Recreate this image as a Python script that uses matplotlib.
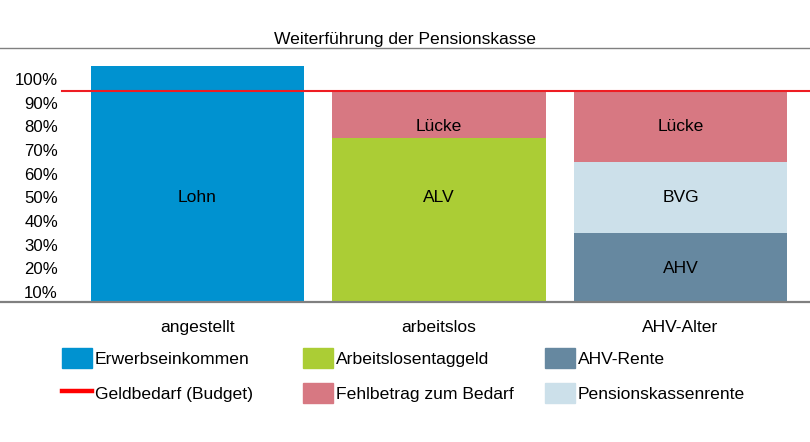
"""
Weiterführung der Pensionskasse — stacked bars, share of budget per life phase.
Output: out.png
"""

import matplotlib.pyplot as plt
import matplotlib.patches as mpatches
from matplotlib.lines import Line2D

plt.rcParams["font.family"] = ["Liberation Sans", "DejaVu Sans"]

# ─── Data (percent) ──────────────────────────────────────────────────────────
CATEGORIES   = ["angestellt", "arbeitslos", "AHV-Alter"]
LOHN         = [105.5, 0, 0]      # Erwerbseinkommen
ALV          = [0, 75, 0]         # Arbeitslosentaggeld
AHV          = [0, 0, 35]         # AHV-Rente
BVG          = [0, 0, 30]         # Pensionskassenrente
LUECKE       = [0, 20, 30]        # Fehlbetrag zum Bedarf
BUDGET       = 95                 # Geldbedarf
YTICKS       = [10, 20, 30, 40, 50, 60, 70, 80, 90, 100]

# in-bar labels: (category index, y value, text)
BAR_LABELS = [
    (0, 50, "Lohn"),
    (1, 50, "ALV"),
    (1, 80, "Lücke"),
    (2, 20, "AHV"),
    (2, 50, "BVG"),
    (2, 80, "Lücke"),
]

# ─── Style ───────────────────────────────────────────────────────────────────
C_LOHN   = "#0092D0"
C_ALV    = "#ABCD35"
C_AHV    = "#6688A0"
C_BVG    = "#CCE0EA"
C_LUECKE = "#D77882"
C_BUDGET = "#EE1D23"
C_AXIS   = "#808080"
FS       = 12.6

W, H, DPI = 810, 442, 100
fig = plt.figure(figsize=(W / DPI, H / DPI), dpi=DPI)
ax = fig.add_axes([0, 140 / H, 1, (302 - 48) / H])

x = list(range(len(CATEGORIES)))
bw = 0.882

ax.bar(x, LOHN, width=bw, color=C_LOHN, zorder=2)
ax.bar(x, ALV, width=bw, color=C_ALV, zorder=2)
ax.bar(x, AHV, width=bw, color=C_AHV, zorder=2)
bottom = [a + b for a, b in zip(ALV, AHV)]
ax.bar(x, BVG, width=bw, bottom=bottom, color=C_BVG, zorder=2)
bottom = [b + c for b, c in zip(bottom, BVG)]
ax.bar(x, LUECKE, width=bw, bottom=bottom, color=C_LUECKE, zorder=2)

ax.axhline(BUDGET, xmin=62 / W, xmax=1, color=C_BUDGET, lw=1.5, zorder=4)

for i, yv, txt in BAR_LABELS:
    ax.text(i, yv, txt, ha="center", va="center", fontsize=FS, zorder=5)

# ─── Axes ────────────────────────────────────────────────────────────────────
ax.set_xlim(-197.5 / 241.5, (W - 197.5) / 241.5)
ax.set_ylim(5.78, 113.1)
ax.set_yticks(YTICKS)
ax.set_yticklabels([f"{t}%" for t in YTICKS], fontsize=12.1)
ax.tick_params(axis="y", length=0, pad=-58 * 72 / DPI)
ax.set_xticks(x)
ax.set_xticklabels(CATEGORIES, fontsize=FS)
ax.tick_params(axis="x", length=0, pad=13)

for s in ["left", "right"]:
    ax.spines[s].set_visible(False)
ax.spines["top"].set_color(C_AXIS)
ax.spines["top"].set_linewidth(1.0)
ax.spines["bottom"].set_color(C_AXIS)
ax.spines["bottom"].set_linewidth(1.6)
ax.spines["bottom"].set_zorder(3)

ax.set_title("Weiterführung der Pensionskasse", fontsize=FS, pad=3)

# ─── Legend (three columns placed separately) ────────────────────────────────
legend_cols = [
    (62, [mpatches.Patch(color=C_LOHN, label="Erwerbseinkommen"),
          Line2D([], [], color="#FF0000", lw=3.2, label="Geldbedarf (Budget)")]),
    (303, [mpatches.Patch(color=C_ALV, label="Arbeitslosentaggeld"),
           mpatches.Patch(color=C_LUECKE, label="Fehlbetrag zum Bedarf")]),
    (545, [mpatches.Patch(color=C_AHV, label="AHV-Rente"),
           mpatches.Patch(color=C_BVG, label="Pensionskassenrente")]),
]
em = FS * DPI / 72
for left_px, handles in legend_cols:
    fig.legend(handles=handles, loc="upper left",
               bbox_to_anchor=(left_px / W, (H - 348) / H),
               frameon=False, fontsize=FS, borderpad=0, borderaxespad=0,
               handlelength=30 / em, handleheight=24 / em,
               handletextpad=3 / em, labelspacing=15 / em)

fig.savefig("out.png", dpi=DPI)
